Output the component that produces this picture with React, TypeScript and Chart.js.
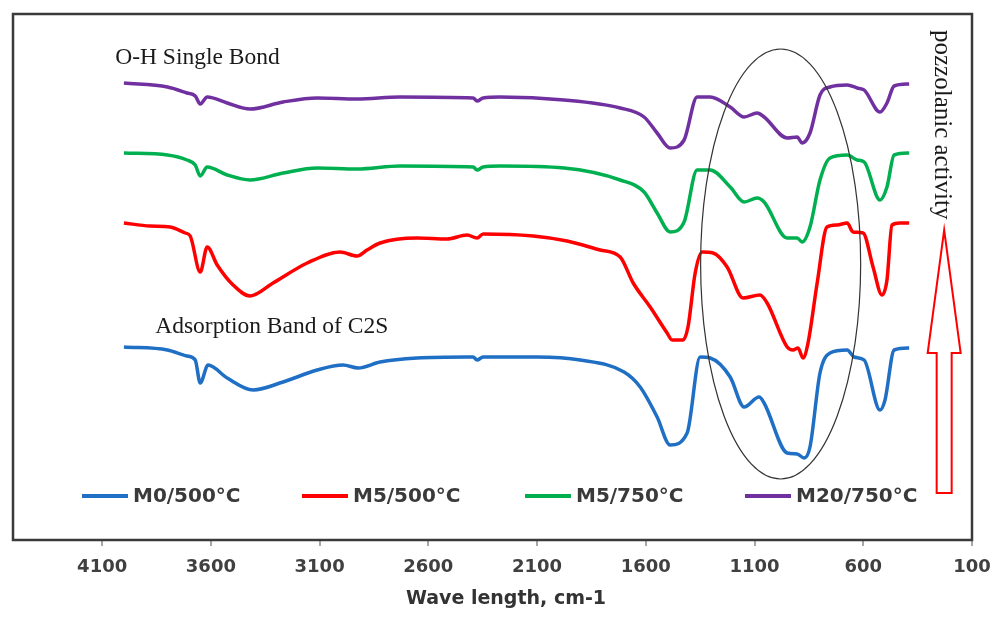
import React, { useEffect, useRef } from "react";
import { Chart, registerables } from "chart.js";

Chart.register(...registerables);

// Wavenumber ticks (cm-1)
const xTicks = [100, 600, 1100, 1600, 2100, 2600, 3100, 3600, 4100];

// Series: wavenumber (cm-1) and transmittance (arbitrary, offset units)
const m0Wave = [4000, 3800, 3710, 3672, 3649, 3613, 3525, 3406, 3268, 3111, 2992, 2923, 2822, 2652, 2422, 2394, 2376, 2348, 2270, 2100, 1902, 1700, 1626, 1548, 1488, 1410, 1350, 1304, 1212, 1148, 1079, 1056, 950, 904, 872, 845, 799, 753, 674, 642, 596, 523, 500, 458, 389];
const m0T = [193, 190, 184, 180, 157, 175, 162, 150, 158, 170, 175, 172, 178, 182, 183, 183, 180, 183, 183, 183, 180, 168, 153, 123, 95, 107, 183, 182, 163, 133, 143, 137, 87, 86, 82, 93, 167, 187, 190, 183, 180, 130, 140, 190, 192];

const m5aWave = [4000, 3880, 3787, 3718, 3695, 3649, 3617, 3571, 3498, 3420, 3314, 3157, 3006, 2928, 2882, 2822, 2652, 2514, 2422, 2376, 2348, 2118, 1962, 1810, 1718, 1658, 1580, 1502, 1479, 1429, 1406, 1373, 1341, 1291, 1226, 1153, 1075, 1042, 950, 923, 900, 877, 854, 812, 767, 720, 674, 647, 601, 555, 514, 491, 468, 431, 389];
const m5aT = [317, 314, 313, 307, 304, 268, 293, 275, 255, 244, 257, 277, 288, 284, 290, 297, 302, 301, 305, 302, 306, 304, 299, 290, 283, 257, 233, 207, 200, 200, 213, 267, 288, 287, 273, 242, 245, 237, 193, 190, 192, 182, 197, 257, 313, 315, 317, 308, 307, 273, 245, 260, 315, 317, 317];

const m5bWave = [4000, 3800, 3710, 3672, 3649, 3617, 3525, 3420, 3268, 3111, 2928, 2730, 2394, 2376, 2348, 2270, 1976, 1718, 1608, 1548, 1488, 1424, 1364, 1304, 1212, 1148, 1088, 1056, 950, 904, 881, 845, 799, 753, 674, 628, 596, 523, 491, 458, 389];
const m5bT = [387, 385, 380, 375, 364, 373, 365, 360, 367, 372, 371, 374, 373, 370, 373, 374, 372, 360, 348, 327, 308, 318, 370, 370, 353, 338, 342, 338, 302, 302, 298, 313, 360, 382, 385, 380, 378, 340, 353, 385, 387];

const m20Wave = [4000, 3800, 3710, 3672, 3649, 3617, 3525, 3420, 3268, 3111, 2928, 2730, 2394, 2376, 2348, 2270, 1976, 1718, 1608, 1548, 1488, 1424, 1364, 1304, 1212, 1148, 1088, 1056, 950, 904, 881, 845, 799, 753, 674, 628, 596, 523, 491, 458, 389];
const m20T = [457, 453, 447, 444, 436, 443, 437, 431, 438, 442, 441, 443, 442, 439, 442, 443, 440, 432, 423, 407, 392, 400, 443, 443, 433, 423, 427, 423, 402, 403, 397, 407, 445, 453, 455, 452, 450, 428, 437, 454, 456];

const seriesLabels = ["M0/500°C", "M5/500°C", "M5/750°C", "M20/750°C"];
const seriesColors = ["#1f6fc4", "#ff0000", "#00b050", "#7030a0"];

const zip = (w: number[], t: number[]) => w.map((x, i) => ({ x, y: t[i] }));

const annotationPlugin = {
  id: "annots",
  afterDraw(chart: any) {
    const { ctx, chartArea, scales } = chart;
    const xs = scales.x;
    const ys = scales.y;
    ctx.save();
    // frame
    ctx.strokeStyle = "#3a3a3a";
    ctx.lineWidth = 2.5;
    ctx.strokeRect(chartArea.left, chartArea.top, chartArea.right - chartArea.left, chartArea.bottom - chartArea.top);

    // ellipse
    const cx = xs.getPixelForValue(980);
    const cy = ys.getPixelForValue(276);
    const rx = Math.abs(xs.getPixelForValue(980) - xs.getPixelForValue(612));
    const ry = Math.abs(ys.getPixelForValue(276) - ys.getPixelForValue(61));
    ctx.beginPath();
    ctx.ellipse(cx, cy, rx, ry, 0, 0, Math.PI * 2);
    ctx.strokeStyle = "#333333";
    ctx.lineWidth = 1.2;
    ctx.stroke();

    // serif notes
    ctx.fillStyle = "#1a1a1a";
    ctx.font = '23.5px "Liberation Serif", "DejaVu Serif", serif';
    ctx.textBaseline = "alphabetic";
    ctx.textAlign = "left";
    ctx.fillText("O-H Single Bond", xs.getPixelForValue(4040), ys.getPixelForValue(476));
    ctx.fillText("Adsorption Band of C2S", xs.getPixelForValue(3856), ys.getPixelForValue(207));

    // vertical text
    ctx.save();
    ctx.translate(xs.getPixelForValue(240), ys.getPixelForValue(510));
    ctx.rotate(Math.PI / 2);
    ctx.font = '25px "Liberation Serif", "DejaVu Serif", serif';
    ctx.textBaseline = "middle";
    ctx.fillText("pozzolanic activity", 0, 0);
    ctx.restore();

    // hollow arrow
    const ax = xs.getPixelForValue(228);
    const tipY = ys.getPixelForValue(310);
    const baseY = ys.getPixelForValue(187);
    const botY = ys.getPixelForValue(47);
    const hw = 16.5;
    const sw = 7.5;
    ctx.beginPath();
    ctx.moveTo(ax, tipY);
    ctx.lineTo(ax + hw, baseY);
    ctx.lineTo(ax + sw, baseY);
    ctx.lineTo(ax + sw, botY);
    ctx.lineTo(ax - sw, botY);
    ctx.lineTo(ax - sw, baseY);
    ctx.lineTo(ax - hw, baseY);
    ctx.closePath();
    ctx.strokeStyle = "#ff0000";
    ctx.lineWidth = 2;
    ctx.stroke();

    // legend
    const legX = [82, 302, 525, 745];
    const legY = 496;
    ctx.font = 'bold 20px "DejaVu Sans", sans-serif';
    ctx.textBaseline = "middle";
    chart.data.datasets.forEach((ds: any, i: number) => {
      ctx.beginPath();
      ctx.moveTo(legX[i], legY);
      ctx.lineTo(legX[i] + 46, legY);
      ctx.strokeStyle = ds.borderColor;
      ctx.lineWidth = 4;
      ctx.stroke();
      ctx.fillStyle = "#3a3a3a";
      ctx.fillText(ds.label, legX[i] + 51, legY + 1);
    });

    // axis title
    ctx.font = 'bold 19px "DejaVu Sans", sans-serif';
    ctx.textAlign = "center";
    ctx.textBaseline = "middle";
    ctx.fillStyle = "#333333";
    ctx.fillText("Wave length, cm-1", 506, 599);
    ctx.restore();
  },
};

export default function App() {
  const ref = useRef<HTMLCanvasElement | null>(null);
  useEffect(() => {
    if (!ref.current) return;
    const data = [zip(m0Wave, m0T), zip(m5aWave, m5aT), zip(m5bWave, m5bT), zip(m20Wave, m20T)];
    const chart = new Chart(ref.current, {
      type: "line",
      data: {
        datasets: data.map((d, i) => ({
          label: seriesLabels[i],
          data: d,
          borderColor: seriesColors[i],
          backgroundColor: seriesColors[i],
          borderWidth: 3.5,
          pointRadius: 0,
          cubicInterpolationMode: "monotone" as const,
          fill: false,
        })),
      },
      options: {
        animation: false,
        responsive: false,
        layout: { padding: { left: 13, top: 14, right: 25, bottom: 0 } },
        plugins: { legend: { display: false }, tooltip: { enabled: false }, title: { display: false } },
        scales: {
          x: {
            type: "linear",
            reverse: true,
            min: 100,
            max: 4510,
            afterBuildTicks: (scale: any) => {
              scale.ticks = xTicks.map((v) => ({ value: v }));
            },
            afterFit: (scale: any) => {
              scale.height = 78;
            },
            grid: { display: true, drawOnChartArea: false, drawTicks: true, tickLength: 6, color: "#a6a6a6", lineWidth: 2 },
            border: { display: false },
            ticks: {
              padding: 11,
              color: "#404040",
              font: { family: "DejaVu Sans", size: 18, weight: "bold" },
              maxRotation: 0,
              autoSkip: false,
              callback: (v: any) => String(v),
            },
          },
          y: { display: false, min: 0, max: 526 },
        },
      },
      plugins: [annotationPlugin],
    });
    return () => chart.destroy();
  }, []);
  return (
    <div style={{ position: "absolute", left: 0, top: 0, width: 997, height: 618, background: "#fff" }}>
      <canvas ref={ref} width={997} height={618} />
    </div>
  );
}
